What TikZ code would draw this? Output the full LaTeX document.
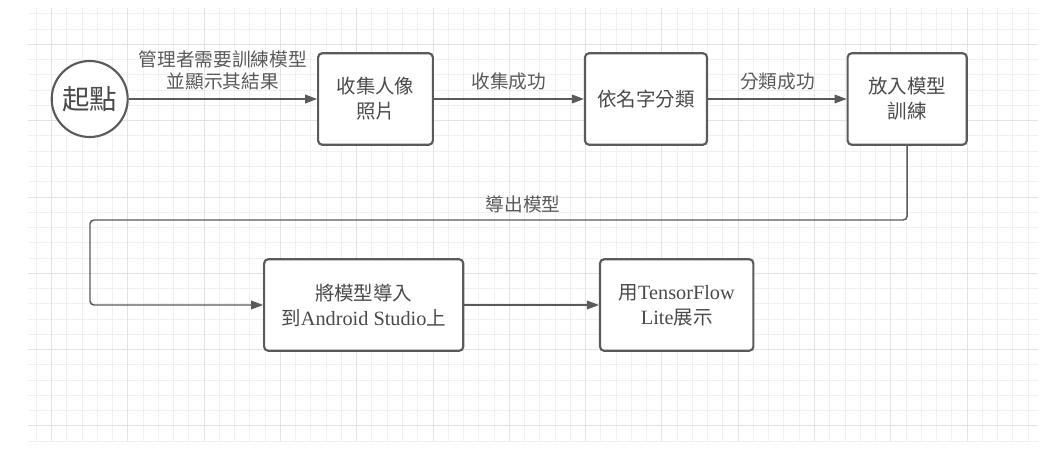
\documentclass[tikz,border=0pt]{standalone}
\usepackage{fontspec}
\setmainfont{Liberation Serif}
\newfontfamily\cjk{Noto Sans CJK TC}
\usetikzlibrary{arrows.meta}

\definecolor{boxgray}{HTML}{5A5A5A}
\definecolor{textgray}{HTML}{4A4A4A}
\definecolor{labelgray}{HTML}{595959}
\definecolor{minorgrid}{HTML}{F0F0F0}
\definecolor{majorgrid}{HTML}{E3E3E3}

\tikzset{
  gridminor/.style={draw=minorgrid, line width=0.6pt},
  gridmajor/.style={draw=majorgrid, line width=0.6pt},
  stepbox/.style={draw=boxgray, line width=1.6pt, rounded corners=3pt, fill=white,
    align=center, text=textgray, inner sep=0pt, minimum height=68.6pt,
    font=\fontsize{14.6}{18.8}\selectfont\cjk},
  startcircle/.style={circle, draw=boxgray, line width=1.6pt, fill=white,
    minimum size=57pt, inner sep=0pt, text=textgray,
    font=\fontsize{20.6}{24}\selectfont\cjk},
  flow/.style={draw=boxgray, line width=1.1pt, -{Triangle[length=9pt,width=6.5pt]}},
  flowlabel/.style={text=labelgray, align=center, font=\fontsize{14}{16.5}\selectfont\cjk},
}

\begin{document}
\begin{tikzpicture}[x=0.75pt,y=-0.75pt]
  \useasboundingbox (0,0) rectangle (1048,456);

  % background grid
  \foreach \k in {-6,...,59}
    \draw[gridminor] ({127.7+15.26*\k},8) -- ({127.7+15.26*\k},441);
  \foreach \k in {-2,...,26}
    \draw[gridminor] (28,{44.3+15.26*\k}) -- (1038,{44.3+15.26*\k});
  \foreach \k in {-1,...,11}
    \draw[gridmajor] ({127.7+76.3*\k},8) -- ({127.7+76.3*\k},441);
  \foreach \k in {0,...,5}
    \draw[gridmajor] (28,{44.3+76.3*\k}) -- (1038,{44.3+76.3*\k});

  % steps
  \node[startcircle] (start) at (89.7,99) {起點};
  \node[stepbox, minimum width=86pt] (collect) at (375.5,99) {收集人像\\照片};
  \node[stepbox, minimum width=91.5pt] (sort) at (646,99) {依名字分類};
  \node[stepbox, minimum width=89.3pt] (train) at (907.2,99) {放入模型\\訓練};
  \node[stepbox, minimum width=149.3pt] (load) at (363.7,305)
    {將模型導入\\到{\rmfamily\fontsize{15.2}{18.8}\selectfont Android Studio}上};
  \node[stepbox, minimum width=115pt] (show) at (676.7,305)
    {用{\rmfamily\fontsize{15.2}{18.8}\selectfont TensorFlow}\\{\rmfamily\fontsize{15.2}{18.8}\selectfont Lite}展示};

  % connectors
  \draw[flow] (start) -- node[flowlabel, above=3pt] {管理者需要訓練模型\\並顯示其結果} (collect);
  \draw[flow] (collect) -- node[flowlabel, above=3pt] {收集成功} (sort);
  \draw[flow] (sort) -- node[flowlabel, above=3pt] {分類成功} (train);
  \coordinate (bend) at (90,220);
  \draw[flow, rounded corners=3pt] (train.south) |- (bend) |- (load.west);
  \node[flowlabel, above=2pt] (exportlbl) at (523,220) {導出模型};
  \draw[flow] (load) -- (show);
\end{tikzpicture}
\end{document}
